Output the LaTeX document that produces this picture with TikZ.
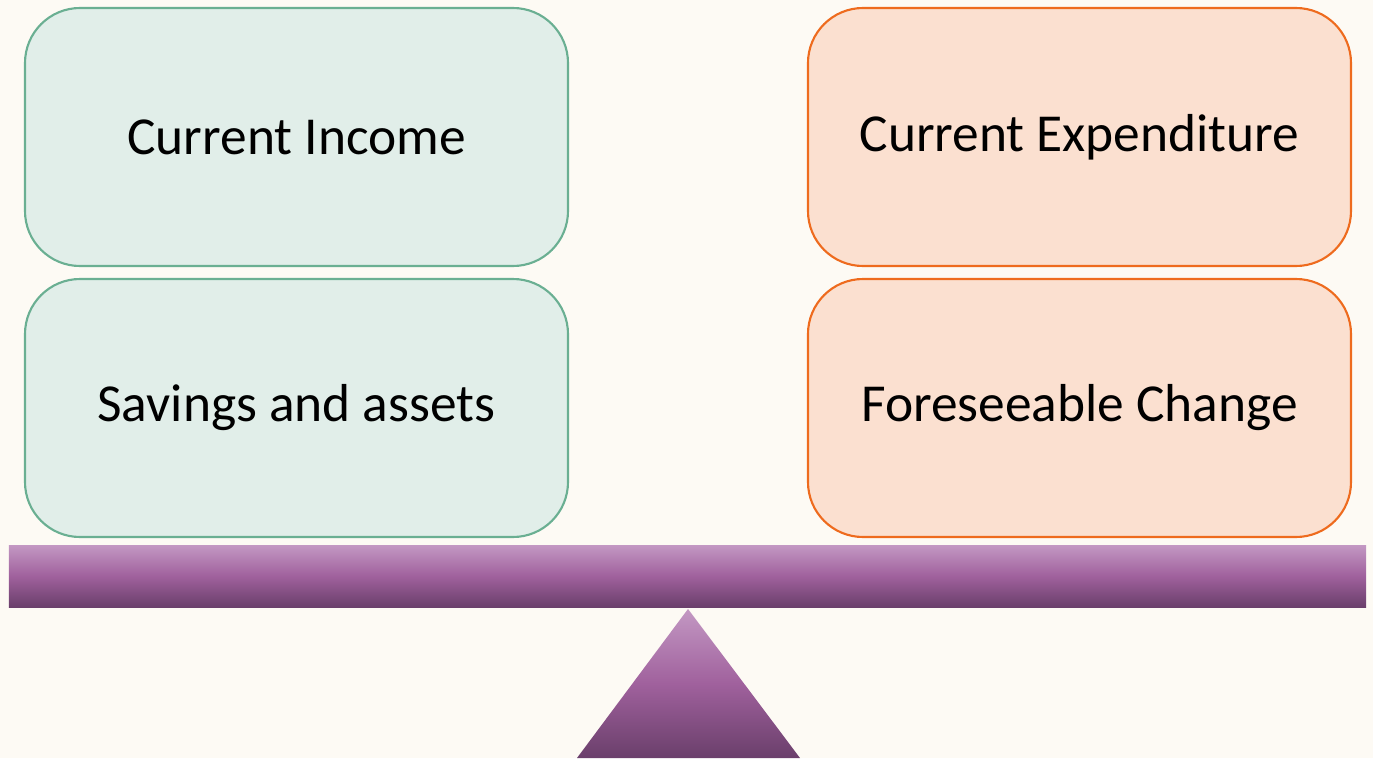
\documentclass[tikz,border=0pt]{standalone}
\usepackage{fontspec}
\setmainfont{Carlito}
\definecolor{paper}{HTML}{FDFAF4}
\definecolor{incfill}{HTML}{E1EEE9}
\definecolor{incline}{HTML}{6AAF92}
\definecolor{expfill}{HTML}{FBE0D0}
\definecolor{expline}{HTML}{EE6B1E}
\definecolor{plumtop}{HTML}{C398C3}
\definecolor{plummid}{HTML}{A0619D}
\definecolor{plumbot}{HTML}{6A3F6B}
\begin{document}
\begin{tikzpicture}[
    every node/.style={font=\fontsize{15.2}{18}\selectfont},
    box/.style={rectangle, rounded corners=0.55cm, minimum width=5.43cm,
                minimum height=2.58cm, line width=0.6pt},
    income/.style={box, draw=incline, fill=incfill},
    spend/.style={box, draw=expline, fill=expfill},
    plum/.style={top color=plumtop, bottom color=plumbot, middle color=plummid}
]
% fondo
\fill[paper] (0,0) rectangle (13.73,7.58);
\useasboundingbox (0,0) rectangle (13.73,7.58);

% -------- lado izquierdo (ingresos) --------
\node[income] (inc) at (2.965,6.21) {Current Income};
\node[income] (sav) at (2.965,3.50) {Savings and assets};

% -------- lado derecho (gastos) --------
\node[spend] (exp) at (10.795,6.21) {Current Expenditure};
\node[spend] (chg) at (10.795,3.50) {Foreseeable Change};

% -------- balanza --------
\shade[plum] (0.09,1.51) rectangle (13.66,2.13); % barra
\shade[plum] (6.88,1.49) -- (8.00,0) -- (5.77,0) -- cycle; % apoyo
\end{tikzpicture}
\end{document}
